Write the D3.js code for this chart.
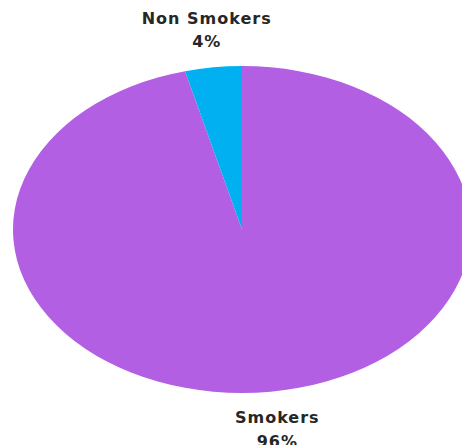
<!DOCTYPE html>
<html>
<head>
<meta charset="utf-8">
<script src="https://cdn.jsdelivr.net/npm/d3@7"></script>
<style>
html,body{margin:0;padding:0;background:#fff;overflow:hidden;}
svg{display:block;}
</style>
</head>
<body>
<svg id="chart" width="462" height="445"></svg>
<script>
const categories = ["Smokers", "Non Smokers"];
const values = [96, 4];
const valueLabels = ["96%", "4%"];
const colors = ["#b35fe4", "#00b0f0"];

const W = 462, H = 445;
const cx = 242, cy = 229.5, rx = 229, ry = 163.5;
const svg = d3.select("#chart");

const data = categories.map((c, i) => ({ name: c, value: values[i], label: valueLabels[i], color: colors[i] }));
const pie = d3.pie().sort(null).value(d => d.value);
const arcs = pie(data);
const arc = d3.arc().innerRadius(0).outerRadius(ry);
const labelArc = d3.arc().innerRadius(ry * 1.23).outerRadius(ry * 1.23);

const g = svg.append("g").attr("transform", `translate(${cx},${cy}) scale(${rx / ry},1)`);
g.selectAll("path").data(arcs).join("path")
  .attr("d", arc)
  .attr("fill", d => d.data.color);

const lg = svg.append("g").attr("transform", `translate(${cx},${cy})`);
arcs.forEach(a => {
  const [x, y] = labelArc.centroid(a);
  const t = lg.append("text")
    .attr("text-anchor", "middle")
    .attr("font-family", "DejaVu Sans, sans-serif")
    .attr("font-weight", "bold")
    .attr("font-size", 16)
    .attr("fill", "#262626")
    .attr("letter-spacing", 1);
  t.append("tspan").attr("x", x * rx / ry).attr("y", y - 6).text(a.data.name);
  t.append("tspan").attr("x", x * rx / ry).attr("y", y + 17.5).text(a.data.label);
});
</script>
</body>
</html>
